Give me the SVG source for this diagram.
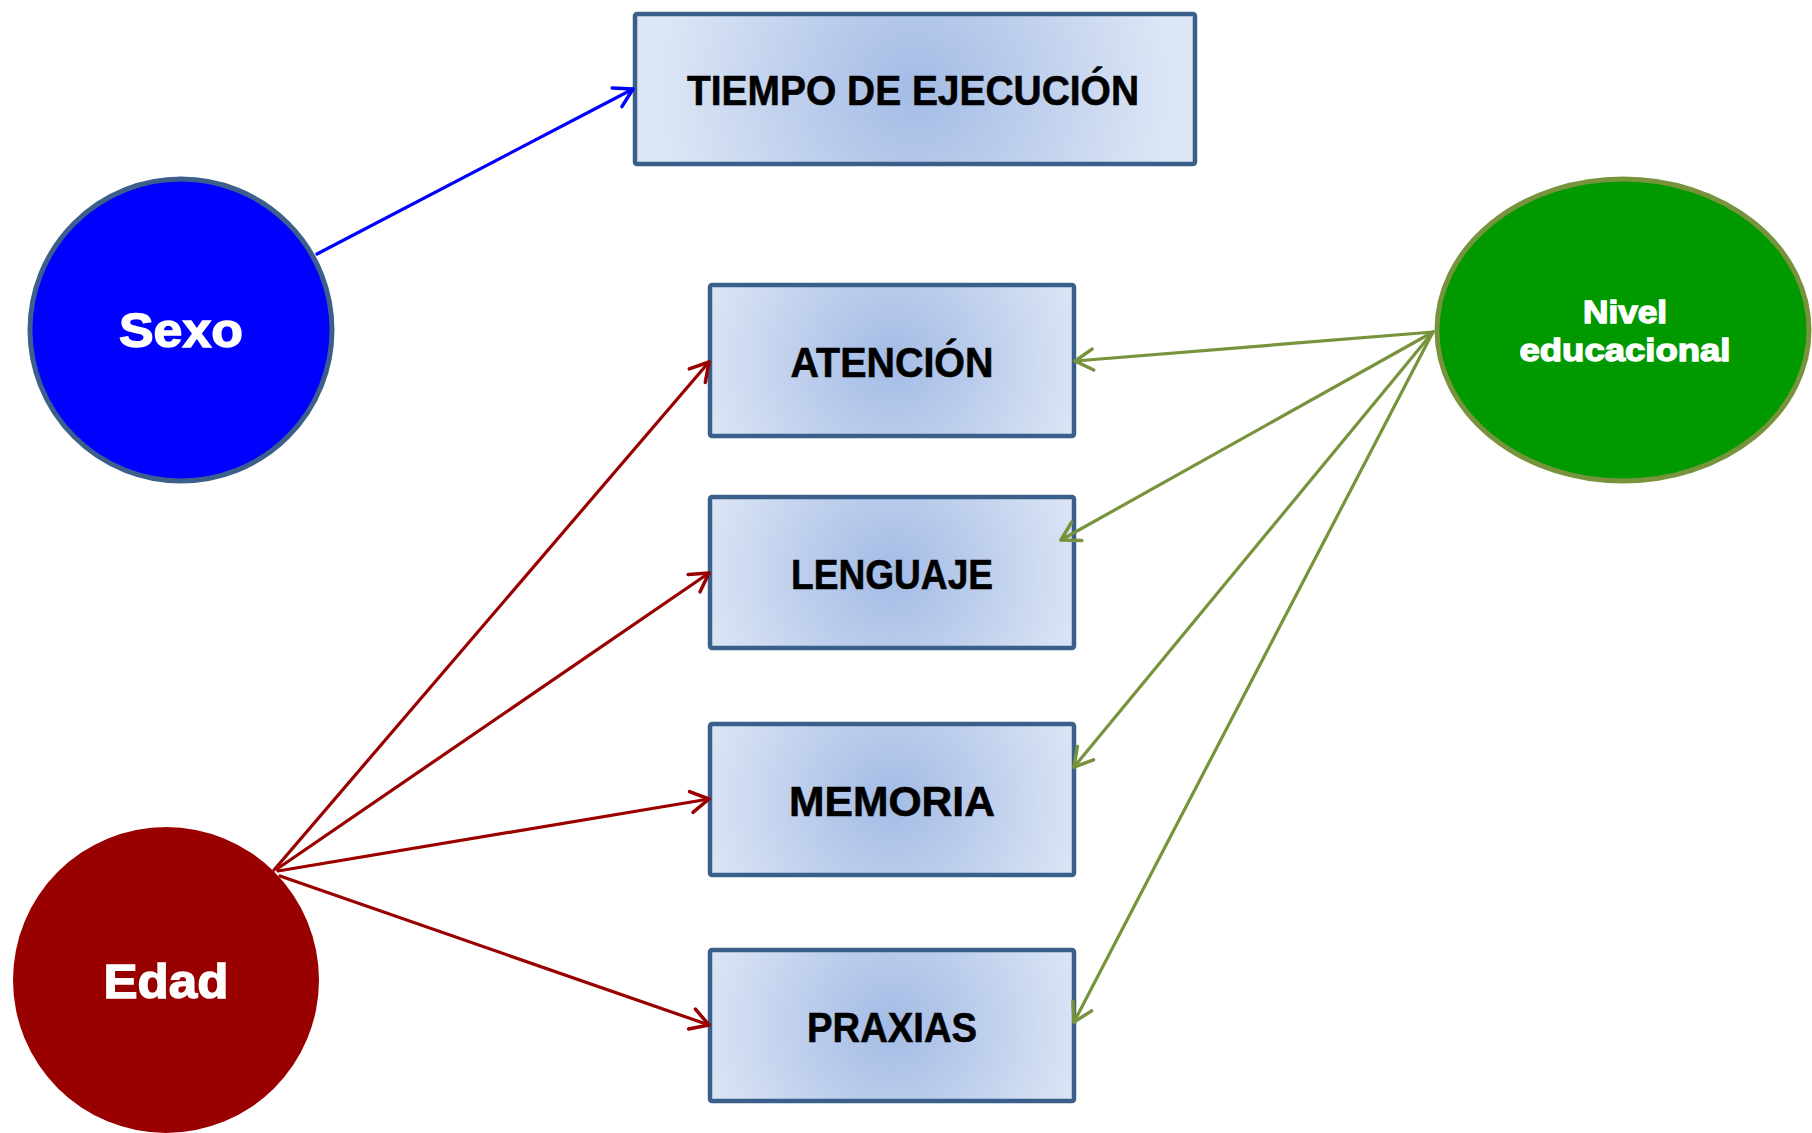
<svg xmlns="http://www.w3.org/2000/svg" width="1812" height="1133" viewBox="0 0 1812 1133">
<style>
.box{stroke:#3a5f8b;stroke-width:4.5}
.bt{font-family:"Liberation Sans",Arial,sans-serif;font-weight:bold;font-size:42px;fill:#000;stroke:#000;stroke-width:0.6;text-anchor:middle}
.ct{font-family:"Liberation Sans",Arial,sans-serif;font-weight:bold;fill:#fff;stroke:#fff;stroke-width:1.4;text-anchor:middle}
.c{fill:none;stroke-width:3.2;stroke-linecap:round}
</style>
<defs>
<radialGradient id="g1" cx="0.5" cy="0.5" r="0.55" gradientTransform="translate(0.5,0.5) scale(1,2.41) translate(-0.5,-0.5)">
<stop offset="0" stop-color="#a3bbe5"/>
<stop offset="1" stop-color="#dde6f5"/>
</radialGradient>
<radialGradient id="g2" cx="0.5" cy="0.5" r="0.46" gradientTransform="translate(0.5,0.5) scale(1,3.73) translate(-0.5,-0.5)">
<stop offset="0" stop-color="#a3bbe5"/>
<stop offset="1" stop-color="#dde6f5"/>
</radialGradient>
<marker id="ab" markerUnits="userSpaceOnUse" viewBox="-22 -14 26 28" markerWidth="26" markerHeight="28" refX="0" refY="0" orient="auto">
<path d="M-18,-10.5 L0,0 L-18,10.5" fill="none" stroke="#0000ff" stroke-width="3.5" stroke-linecap="round" stroke-linejoin="round"/>
</marker>
<marker id="ar" markerUnits="userSpaceOnUse" viewBox="-22 -14 26 28" markerWidth="26" markerHeight="28" refX="0" refY="0" orient="auto">
<path d="M-18,-10.5 L0,0 L-18,10.5" fill="none" stroke="#990000" stroke-width="3.5" stroke-linecap="round" stroke-linejoin="round"/>
</marker>
<marker id="ag" markerUnits="userSpaceOnUse" viewBox="-22 -14 26 28" markerWidth="26" markerHeight="28" refX="0" refY="0" orient="auto">
<path d="M-18,-10.5 L0,0 L-18,10.5" fill="none" stroke="#77933c" stroke-width="3.5" stroke-linecap="round" stroke-linejoin="round"/>
</marker>
</defs>
<rect width="1812" height="1133" fill="#fff"/>
<g id="tiempo">
<rect class="box" x="635" y="14" width="560" height="150" rx="2" fill="url(#g2)"/>
<text class="bt" x="913" y="105" textLength="452" lengthAdjust="spacingAndGlyphs">TIEMPO DE EJECUCIÓN</text>
</g>
<g id="atencion">
<rect class="box" x="710" y="285" width="364" height="151" rx="2" fill="url(#g1)"/>
<text class="bt" x="892" y="377" textLength="203" lengthAdjust="spacingAndGlyphs">ATENCIÓN</text>
</g>
<g id="lenguaje">
<rect class="box" x="710" y="497" width="364" height="151" rx="2" fill="url(#g1)"/>
<text class="bt" x="892" y="589" textLength="202" lengthAdjust="spacingAndGlyphs">LENGUAJE</text>
</g>
<g id="memoria">
<rect class="box" x="710" y="724" width="364" height="151" rx="2" fill="url(#g1)"/>
<text class="bt" x="892" y="816" textLength="206" lengthAdjust="spacingAndGlyphs">MEMORIA</text>
</g>
<g id="praxias">
<rect class="box" x="710" y="950" width="364" height="151" rx="2" fill="url(#g1)"/>
<text class="bt" x="892" y="1042" textLength="170" lengthAdjust="spacingAndGlyphs">PRAXIAS</text>
</g>
<g id="sexo">
<circle cx="181" cy="330" r="151" fill="#0000ff" stroke="#3c5f8c" stroke-width="5"/>
<text class="ct" x="181" y="347" font-size="49" textLength="124" lengthAdjust="spacingAndGlyphs">Sexo</text>
</g>
<g id="edad">
<circle cx="166" cy="980" r="153" fill="#990000"/>
<text class="ct" x="166" y="998" font-size="49" textLength="125" lengthAdjust="spacingAndGlyphs">Edad</text>
</g>
<g id="nivel">
<ellipse cx="1623" cy="330" rx="186" ry="151" fill="#009900" stroke="#77933c" stroke-width="5"/>
<text class="ct" x="1625" y="323" font-size="32" textLength="84" lengthAdjust="spacingAndGlyphs">Nivel</text>
<text class="ct" x="1625" y="361" font-size="32" textLength="211" lengthAdjust="spacingAndGlyphs">educacional</text>
</g>
<g id="connectors">
<line class="c" x1="317" y1="254" x2="633" y2="89" stroke="#0000ff" marker-end="url(#ab)"/>
<line class="c" x1="274" y1="870" x2="709" y2="362" stroke="#990000" marker-end="url(#ar)"/>
<line class="c" x1="277" y1="869" x2="709" y2="573" stroke="#990000" marker-end="url(#ar)"/>
<line class="c" x1="278" y1="871" x2="709" y2="799" stroke="#990000" marker-end="url(#ar)"/>
<line class="c" x1="280" y1="876" x2="709" y2="1025" stroke="#990000" marker-end="url(#ar)"/>
<line class="c" x1="1433" y1="332" x2="1075" y2="361" stroke="#77933c" marker-end="url(#ag)"/>
<line class="c" x1="1433" y1="332" x2="1061" y2="540" stroke="#77933c" marker-end="url(#ag)"/>
<line class="c" x1="1433" y1="332" x2="1074" y2="767" stroke="#77933c" marker-end="url(#ag)"/>
<line class="c" x1="1433" y1="332" x2="1074" y2="1022" stroke="#77933c" marker-end="url(#ag)"/>
</g>
</svg>
